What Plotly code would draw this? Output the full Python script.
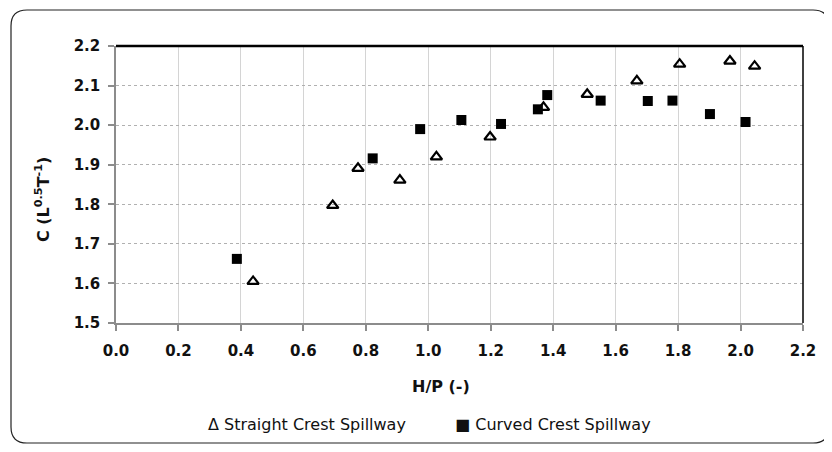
import plotly.graph_objects as go

straight_x = [0.439, 0.694, 0.775, 0.909, 1.026, 1.198, 1.369, 1.509, 1.668, 1.805, 1.966, 2.045]
straight_y = [1.605, 1.797, 1.891, 1.861, 1.920, 1.970, 2.045, 2.078, 2.112, 2.154, 2.162, 2.149]

curved_x = [0.387, 0.822, 0.974, 1.106, 1.233, 1.351, 1.381, 1.552, 1.703, 1.782, 1.902, 2.016]
curved_y = [1.662, 1.916, 1.990, 2.013, 2.003, 2.040, 2.076, 2.062, 2.061, 2.062, 2.028, 2.008]

x_ticks = [0.0, 0.2, 0.4, 0.6, 0.8, 1.0, 1.2, 1.4, 1.6, 1.8, 2.0, 2.2]
y_ticks = [1.5, 1.6, 1.7, 1.8, 1.9, 2.0, 2.1, 2.2]

legend_labels = ["\u0394 Straight Crest Spillway", "\u25A0 Curved Crest Spillway"]
x_title = "H/P (-)"
y_title = "C (L<sup>0.5</sup>T<sup>-1</sup>)"

# page has an 8px body margin; figure coordinates are offset by it
OFF = 8
W, H = 832 - OFF, 452 - 2 * OFF
ML, MT = 116 - OFF, 46 - OFF
PR, PB = 803 - OFF, 323 - OFF
MR, MB = W - PR, H - PB
PW, PH = PR - ML, PB - MT

def px(x):
    return (x - OFF - ML) / PW

def py(y):
    return (PB - (y - OFF)) / PH

fig = go.Figure()
fig.add_trace(go.Scatter(
    x=straight_x, y=straight_y, mode="markers", name="Straight Crest Spillway",
    marker=dict(symbol="triangle-up-open", size=10, color="black", line=dict(width=2.2, color="black")),
))
fig.add_trace(go.Scatter(
    x=curved_x, y=curved_y, mode="markers", name="Curved Crest Spillway",
    marker=dict(symbol="square", size=10, color="black"),
))

# rounded outer frame
l, t, r, b, rad = px(11), py(10), px(829), py(443), 16
rx, ry = rad / PW, rad / PH
path = (f"M {l+rx},{t} L {r-rx},{t} Q {r},{t} {r},{t-ry} L {r},{b+ry} Q {r},{b} {r-rx},{b} "
        f"L {l+rx},{b} Q {l},{b} {l},{b+ry} L {l},{t-ry} Q {l},{t} {l+rx},{t} Z")
fig.add_shape(type="path", path=path, xref="paper", yref="paper",
              line=dict(color="#222222", width=1.2), layer="below")
# top and right black borders
fig.add_shape(type="line", xref="paper", yref="paper", x0=0, x1=1, y0=1, y1=1,
              line=dict(color="black", width=2.5))
fig.add_shape(type="line", xref="paper", yref="paper", x0=1, x1=1, y0=0, y1=1,
              line=dict(color="black", width=1.5))

tickfont = dict(family="DejaVu Sans", size=15, color="#111111", weight="bold")
fig.update_xaxes(
    range=[0, 2.2], tickvals=x_ticks, ticktext=[f"{v:.1f}" for v in x_ticks],
    showgrid=True, gridcolor="#d4d4d4", gridwidth=1,
    showline=True, linecolor="#8c8c8c", linewidth=1.5,
    ticks="outside", ticklen=6, tickcolor="#8c8c8c", tickwidth=1.5,
    tickfont=tickfont, zeroline=False, ticklabelstandoff=7,
)
fig.update_yaxes(
    range=[1.5, 2.2], tickvals=y_ticks, ticktext=[f"{v:.1f}" for v in y_ticks],
    showgrid=True, gridcolor="#b0b0b0", gridwidth=1, griddash="dot",
    showline=True, linecolor="#8c8c8c", linewidth=1.5,
    ticks="outside", ticklen=6, tickcolor="#8c8c8c", tickwidth=1.5,
    tickfont=tickfont, zeroline=False, ticklabelstandoff=5,
)
fig.add_annotation(text=x_title, x=px(441), y=py(386), xref="paper", yref="paper",
                   xanchor="center", yanchor="middle", showarrow=False,
                   font=dict(family="DejaVu Sans", size=16, color="#111111", weight="bold"))
fig.add_annotation(text=y_title, x=px(42), y=py(200), xref="paper", yref="paper",
                   xanchor="center", yanchor="middle", showarrow=False, textangle=-90,
                   font=dict(family="DejaVu Sans", size=16, color="#111111", weight="bold"))
legend_x = [307, 553]
for txt, xc in zip(legend_labels, legend_x):
    fig.add_annotation(text=txt, x=px(xc), y=py(424), xref="paper", yref="paper",
                       xanchor="center", yanchor="middle", showarrow=False,
                       font=dict(family="DejaVu Sans", size=16, color="#111111"))
fig.update_layout(
    width=W, height=H, margin=dict(l=ML, r=MR, t=MT, b=MB, autoexpand=False),
    paper_bgcolor="white", plot_bgcolor="white",
    showlegend=False,
)
fig.write_html("out.html")
